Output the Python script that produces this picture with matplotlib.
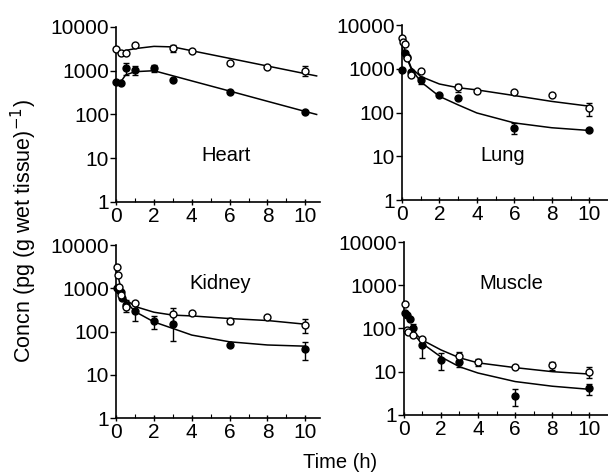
import numpy as np
import matplotlib.pyplot as plt
from matplotlib.ticker import LogLocator, NullFormatter, FixedLocator

plt.rcParams['font.family'] = ['Liberation Sans', 'DejaVu Sans']

# ---- Heart ----
heart_t_open = [0, 0.25, 0.5, 1, 3, 4, 6, 8, 10]
heart_open = [3100, 2600, 2500, 3900, 3250, 2850, 1480, 1240, 1000]
heart_open_err = [0, 0, 0, 0, 600, 0, 0, 0, 250]
heart_t_fill = [0, 0.25, 0.5, 1, 2, 3, 6, 10]
heart_fill = [560, 515, 1140, 1040, 1140, 616, 325, 115]
heart_fill_err = [0, 0, 350, 250, 200, 0, 0, 0]
heart_fit_t = [0, 0.25, 0.5, 1, 2, 3, 4, 6, 8, 10, 10.6]
heart_fit_open = [3100, 2700, 2900, 3200, 3600, 3500, 2860, 1915, 1280, 855, 760]
heart_fit_fill = [520, 560, 800, 950, 1000, 765, 585, 343, 200, 117, 100]

# ---- Lung ----
lung_t_open = [0.03, 0.08, 0.17, 0.25, 0.5, 1, 3, 4, 6, 8, 10]
lung_open = [5000, 4000, 3700, 1740, 720, 890, 375, 316, 295, 250, 125]
lung_open_err = [0, 0, 0, 0, 0, 0, 80, 0, 0, 0, 40]
lung_t_fill = [0.03, 0.17, 0.25, 0.5, 1, 2, 3, 6, 10]
lung_fill = [950, 2300, 1900, 860, 560, 256, 214, 45, 39]
lung_fill_err = [0, 0, 0, 0, 100, 0, 0, 12, 0]
lung_fit_t = [0, 0.25, 0.5, 1, 2, 3, 4, 6, 8, 10]
lung_fit_open = [4500, 2000, 1050, 670, 450, 370, 330, 245, 180, 140]
lung_fit_fill = [3000, 1800, 1000, 510, 235, 150, 98, 58, 45, 39]

# ---- Kidney ----
kid_t_open = [0.03, 0.08, 0.17, 0.25, 0.5, 1, 3, 4, 6, 8, 10]
kid_open = [3040, 2000, 1080, 700, 370, 460, 260, 262, 178, 218, 145]
kid_open_err = [0, 0, 0, 0, 0, 0, 90, 0, 25, 0, 50]
kid_t_fill = [0.03, 0.17, 0.25, 0.33, 0.5, 1, 2, 3, 6, 10]
kid_fill = [1000, 900, 800, 590, 410, 295, 175, 150, 49, 40]
kid_fill_err = [0, 0, 0, 0, 120, 120, 60, 90, 0, 18]
kid_fit_t = [0, 0.25, 0.5, 1, 2, 3, 4, 6, 8, 10]
kid_fit_open = [3000, 1000, 560, 380, 280, 240, 230, 200, 180, 148]
kid_fit_fill = [1000, 750, 500, 290, 167, 118, 83, 58, 49, 46]

# ---- Muscle ----
mus_t_open = [0.05, 0.17, 0.25, 0.5, 1, 3, 4, 6, 8, 10]
mus_open = [360, 91, 85, 70, 56, 23, 16.5, 13, 14, 10]
mus_open_err = [0, 0, 0, 0, 0, 5, 3, 0, 3, 3]
mus_t_fill = [0.08, 0.17, 0.33, 0.5, 1, 2, 3, 6, 10]
mus_fill = [230, 205, 170, 100, 41, 19, 17, 2.8, 4.1]
mus_fill_err = [0, 0, 0, 30, 20, 8, 4, 1.2, 1.2]
mus_fit_t = [0, 0.25, 0.5, 1, 2, 3, 4, 6, 8, 10]
mus_fit_open = [95, 90, 85, 54, 32, 21, 16, 12.4, 10, 8.8]
mus_fit_fill = [80, 78, 75, 45, 22, 13, 9.3, 5.9, 4.6, 3.9]

panels = [
    ('Heart', [0.191, 0.573, 0.336, 0.370], 10.8, (5.8, 11.7),
     heart_t_open, heart_open, heart_open_err, heart_t_fill, heart_fill, heart_fill_err,
     heart_fit_t, heart_fit_open, heart_fit_fill),
    ('Lung', [0.661, 0.577, 0.339, 0.370], 11.0, (5.4, 10.7),
     lung_t_open, lung_open, lung_open_err, lung_t_fill, lung_fill, lung_fill_err,
     lung_fit_t, lung_fit_open, lung_fit_fill),
    ('Kidney', [0.191, 0.116, 0.336, 0.366], 10.8, (5.5, 1300),
     kid_t_open, kid_open, kid_open_err, kid_t_fill, kid_fill, kid_fill_err,
     kid_fit_t, kid_fit_open, kid_fit_fill),
    ('Muscle', [0.664, 0.123, 0.336, 0.365], 11.0, (5.8, 1130),
     mus_t_open, mus_open, mus_open_err, mus_t_fill, mus_fill, mus_fill_err,
     mus_fit_t, mus_fit_open, mus_fit_fill),
]

fig = plt.figure(figsize=(6.08, 4.73), dpi=100)

for (name, rect, xmax, lab_pos, to, yo, eo, tf, yf, ef, ft, fo, ff) in panels:
    ax = fig.add_axes(rect)
    ax.set_yscale('log')
    ax.set_ylim(1, 10000)
    ax.set_xlim(0, xmax)
    ax.plot(ft, fo, color='black', lw=1.1, zorder=2)
    ax.plot(ft, ff, color='black', lw=1.1, zorder=2)
    ax.errorbar(tf, yf, yerr=ef, fmt='o', ms=5, mfc='black', mec='black',
                ecolor='black', elinewidth=1, capsize=2, zorder=3, clip_on=False)
    ax.errorbar(to, yo, yerr=eo, fmt='o', ms=5, mfc='white', mec='black', mew=1,
                ecolor='black', elinewidth=1, capsize=2, zorder=4, clip_on=False)
    ax.text(lab_pos[0], lab_pos[1], name, fontsize=14.5, ha='center', va='center')
    for s in ['top', 'right']:
        ax.spines[s].set_visible(False)
    ax.spines['left'].set_linewidth(1.2)
    ax.spines['bottom'].set_linewidth(1.2)
    ax.yaxis.set_major_locator(FixedLocator([1, 10, 100, 1000, 10000]))
    ax.set_yticklabels(['1', '10', '100', '1000', '10000'])
    ax.yaxis.set_minor_locator(LogLocator(base=10, subs=np.arange(2, 10)))
    ax.yaxis.set_minor_formatter(NullFormatter())
    ax.set_xticks([0, 2, 4, 6, 8, 10])
    ax.set_xticks([1, 3, 5, 7, 9], minor=True)
    ax.tick_params(axis='y', which='major', direction='out', length=4, width=1,
                   labelsize=15, pad=1)
    ax.tick_params(axis='y', which='minor', direction='in', length=2.5, width=0.8)
    ax.tick_params(axis='x', which='major', direction='inout', length=5, width=1,
                   labelsize=15, pad=1)
    ax.tick_params(axis='x', which='minor', direction='in', length=3, width=0.8)

fig.text(0.040, 0.512, 'Concn (pg (g wet tissue)$^{-1}$)', rotation=90,
         fontsize=15.5, ha='center', va='center')
fig.text(0.56, 0.023, 'Time (h)', fontsize=14.5, ha='center', va='center')

fig.savefig('out.png', dpi=100)
